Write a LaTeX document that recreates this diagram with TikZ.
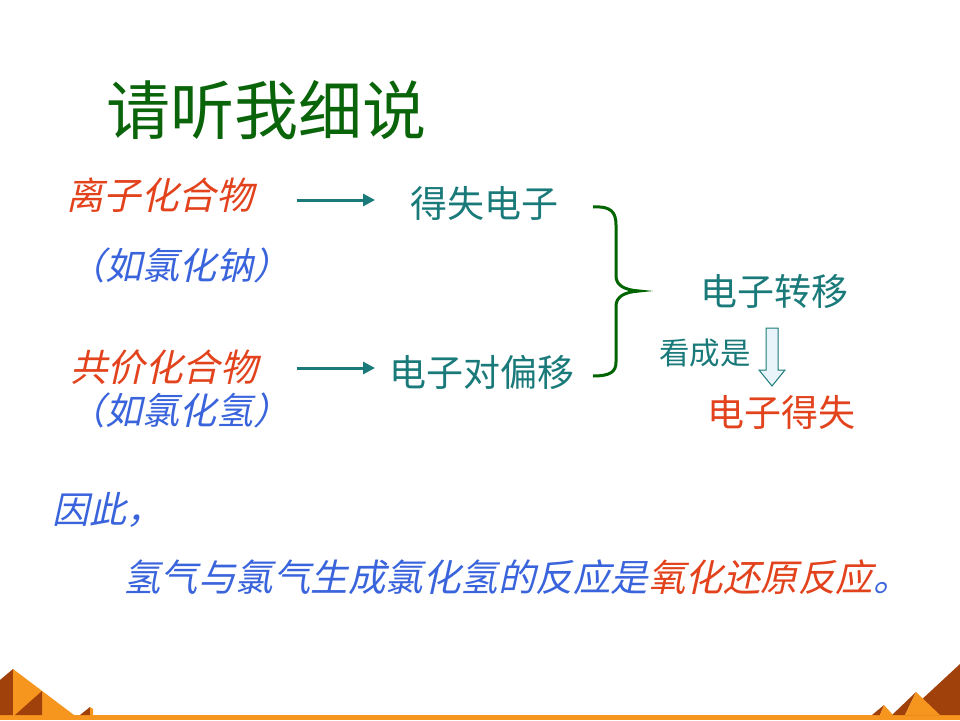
\documentclass[tikz,border=0pt]{standalone}
\usepackage{fontspec}
\usetikzlibrary{arrows.meta}
\newfontfamily\cjk{Noto Sans CJK SC}
\newfontfamily\cjkit[FakeSlant=0.22]{Noto Sans CJK SC}
\definecolor{tred}{RGB}{226,66,28}
\definecolor{tblue}{RGB}{58,100,220}
\definecolor{tteal}{RGB}{26,122,122}
\definecolor{tgreen}{RGB}{10,100,10}
\definecolor{bgreen}{RGB}{0,100,0}
\definecolor{orng}{RGB}{246,150,30}
\definecolor{brwn}{RGB}{160,64,10}
\definecolor{pale}{RGB}{232,244,250}
\tikzset{
  txt/.style={anchor=west,inner sep=0pt,outer sep=0pt},
  redit/.style={txt,text=tred,font=\cjkit\fontsize{37.5}{40}\selectfont},
  blueit/.style={txt,text=tblue,font=\cjkit\fontsize{37}{40}\selectfont},
  tealt/.style={txt,text=tteal,font=\cjk\fontsize{37}{40}\selectfont},
  conn/.style={draw=tteal,line width=3pt,-{Triangle[length=12pt,width=12pt]}},
}
\begin{document}
\begin{tikzpicture}[x=1pt,y=-1pt]
\useasboundingbox (0,0) rectangle (960,720);
\fill[white] (0,0) rectangle (960,720);
% title
\node[txt,text=tgreen,font=\cjk\fontsize{64}{68}\selectfont] (title) at (106,110) {请听我细说};
% left column
\node[redit] (n1) at (66,195) {离子化合物};
\node[blueit] (n1b) at (68,265) {（如氯化钠）};
\node[redit] (n2) at (70,367) {共价化合物};
\node[blueit] (n2b) at (68,410) {（如氯化氢）};
% middle
\node[tealt] (m1) at (410,203) {得失电子};
\node[tealt] (m2) at (389,372) {电子对偏移};
% arrows
\draw[conn] ([shift={(43.5,5)}]n1.east) -- ([shift={(-35,-3)}]m1.west);
\draw[conn] ([shift={(39.5,1)}]n2.east) -- ([shift={(-14,-4)}]m2.west);
% brace
\draw[bgreen,line width=3pt] (593,207) .. controls (611,206) and (616,212) .. (616,225) -- (616,276)
  .. controls (616,285) and (624,290) .. (639,291)
  .. controls (624,292) and (616,297) .. (616,306) -- (616,362)
  .. controls (616,372) and (610,376) .. (593,376);
% right
\node[tealt] (r1) at (700,292) {电子转移};
\node[txt,text=tteal,font=\cjk\fontsize{30.5}{33}\selectfont] (see) at (659,353) {看成是};
\node[txt,text=tred,font=\cjk\fontsize{37}{40}\selectfont] (r2) at (707,412) {电子得失};
\draw[tteal,fill=pale,line width=1pt] (766,328) -- (778,328) -- (778,370) -- (785,370) -- (772,386) -- (759,370) -- (766,370) -- cycle;
% conclusion
\node[blueit] (c1) at (52,510) {因此，};
\node[txt,font=\cjkit\fontsize{37.5}{40}\selectfont] (c2) at (123,577) {\textcolor{tblue}{氢气与氯气生成氯化氢的反应是}\textcolor{tred}{氧化还原反应}\textcolor{tblue}{。}};
% bottom decoration
\fill[orng] (0,715) rectangle (960,720);
\fill[brwn] (0,680) -- (13,669) -- (13,715) -- (0,715) -- cycle;
\fill[orng] (13,669) -- (74,715) -- (13,715) -- cycle;
\fill[brwn] (42,691) -- (15,715) -- (42,715) -- cycle;
\fill[brwn] (90,707) -- (80,715) -- (90,715) -- cycle;
\fill[orng] (90,707) -- (93,709) -- (93,715) -- (90,715) -- cycle;
\fill[brwn] (960,664) -- (905,715) -- (960,715) -- cycle;
\fill[brwn] (916,692) -- (892,715) -- (905,715) -- cycle;
\fill[orng] (916,692) -- (905,715) -- (940,715) -- cycle;
\fill[brwn] (884,705) -- (872,715) -- (880,715) -- cycle;
\fill[orng] (884,705) -- (880,715) -- (893,715) -- cycle;
\end{tikzpicture}
\end{document}
